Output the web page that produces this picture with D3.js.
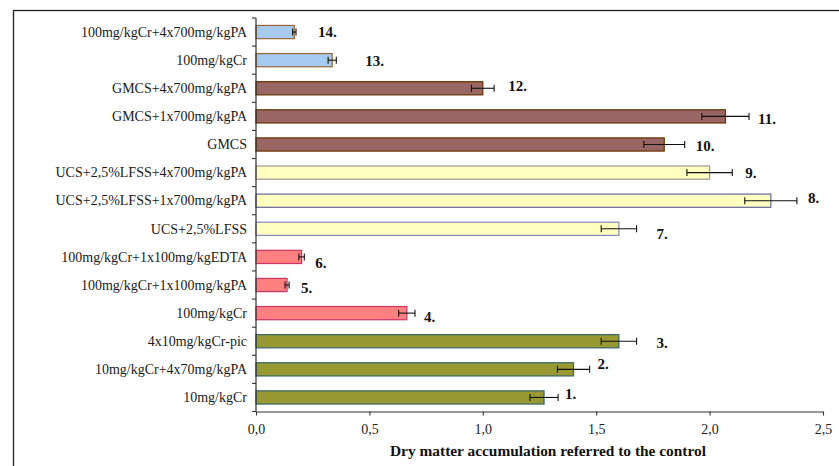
<!DOCTYPE html>
<html>
<head>
<meta charset="utf-8">
<script src="https://cdn.jsdelivr.net/npm/d3@7"></script>
<style>
  html, body { margin: 0; padding: 0; background: #fff; }
  svg { display: block; }
  text { font-family: "Liberation Serif", "Times New Roman", serif; }
</style>
</head>
<body>
<svg id="chart" width="839" height="466"></svg>
<script>
// Treatments, listed bottom (1.) to top (14.)
const categories = [
  "10mg/kgCr",
  "10mg/kgCr+4x70mg/kgPA",
  "4x10mg/kgCr-pic",
  "100mg/kgCr",
  "100mg/kgCr+1x100mg/kgPA",
  "100mg/kgCr+1x100mg/kgEDTA",
  "UCS+2,5%LFSS",
  "UCS+2,5%LFSS+1x700mg/kgPA",
  "UCS+2,5%LFSS+4x700mg/kgPA",
  "GMCS",
  "GMCS+1x700mg/kgPA",
  "GMCS+4x700mg/kgPA",
  "100mg/kgCr",
  "100mg/kgCr+4x700mg/kgPA"
];
const numberLabels = ["1.", "2.", "3.", "4.", "5.", "6.", "7.", "8.", "9.", "10.", "11.", "12.", "13.", "14."];
const values = [1.27, 1.40, 1.60, 0.665, 0.137, 0.201, 1.60, 2.27, 2.00, 1.80, 2.07, 1.00, 0.336, 0.169];
const errors = [0.062, 0.071, 0.078, 0.036, 0.009, 0.012, 0.078, 0.115, 0.10, 0.09, 0.104, 0.05, 0.018, 0.0075];
const groups = [0, 0, 0, 1, 1, 1, 2, 2, 2, 3, 3, 3, 4, 4];
const xTickValues = [0, 0.5, 1.0, 1.5, 2.0, 2.5];
const xTitle = "Dry matter accumulation referred to the control";

// Styling per group
const groupFill = ["#999933", "#ff8080", "#ffffc0", "#996666", "#a6caf0"];
const groupStroke = ["#336666", "#cc3366", "#8888bb", "#663300", "#996633"];
// Individual outline overrides for the yellow group
const strokeOverride = { 8: "#999999", 7: "#666699" };
// Hand-placed nudges for the numbered tags: [px right of error cap, px below band centre]
const tagNudge = [[7, -3], [8, -5], [20, 2], [9, 4], [12, 3], [11, 6], [20, 5],
                  [11, -3], [13, 0], [11, 2], [9, 3], [14, -2], [29, 1], [22, 0]];

const svg = d3.select("#chart");

// Outer frame
svg.append("rect")
  .attr("x", 13.5).attr("y", 10.5)
  .attr("width", 900).attr("height", 500)
  .attr("fill", "none").attr("stroke", "#222").attr("stroke-width", 1.3);

const x = d3.scaleLinear().domain([0, 2.5]).range([256, 823]);
const y = d3.scaleBand()
  .domain(d3.range(categories.length).reverse())
  .range([18, 411.5])
  .padding(0);
const step = y.step();
const barH = step * 0.47;
const yc = i => y(i) + step / 2;

const plot = svg.append("g");

// Bars
plot.selectAll("rect.bar")
  .data(values)
  .join("rect")
  .attr("class", "bar")
  .attr("x", x(0))
  .attr("y", (d, i) => yc(i) - barH / 2)
  .attr("width", d => x(d) - x(0))
  .attr("height", barH)
  .attr("fill", (d, i) => groupFill[groups[i]])
  .attr("stroke", (d, i) => strokeOverride[i] || groupStroke[groups[i]])
  .attr("stroke-width", 1.2);

// Error bars
const eb = plot.selectAll("g.err")
  .data(values)
  .join("g")
  .attr("class", "err")
  .attr("stroke", "#111")
  .attr("stroke-width", 1.1);
eb.append("line")
  .attr("x1", (d, i) => x(d - errors[i]))
  .attr("x2", (d, i) => x(d + errors[i]))
  .attr("y1", (d, i) => yc(i))
  .attr("y2", (d, i) => yc(i));
eb.append("line")
  .attr("x1", (d, i) => x(d - errors[i]))
  .attr("x2", (d, i) => x(d - errors[i]))
  .attr("y1", (d, i) => yc(i) - 3.5)
  .attr("y2", (d, i) => yc(i) + 3.5);
eb.append("line")
  .attr("x1", (d, i) => x(d + errors[i]))
  .attr("x2", (d, i) => x(d + errors[i]))
  .attr("y1", (d, i) => yc(i) - 3.5)
  .attr("y2", (d, i) => yc(i) + 3.5);

// Numbered tags
plot.selectAll("text.tag")
  .data(values)
  .join("text")
  .attr("class", "tag")
  .attr("x", (d, i) => x(d + errors[i]) + tagNudge[i][0])
  .attr("y", (d, i) => yc(i) + tagNudge[i][1] + 5)
  .attr("font-size", 15)
  .attr("font-weight", "bold")
  .attr("fill", "#111")
  .text((d, i) => numberLabels[i]);

// Category axis: line, boundary ticks, labels
const axisColor = "#333";
svg.append("line")
  .attr("x1", x(0)).attr("x2", x(0))
  .attr("y1", y.range()[0]).attr("y2", y.range()[1])
  .attr("stroke", axisColor).attr("stroke-width", 1.2);
svg.selectAll("line.ytick")
  .data(d3.range(categories.length + 1))
  .join("line")
  .attr("class", "ytick")
  .attr("x1", x(0) - 4).attr("x2", x(0))
  .attr("y1", k => y.range()[0] + k * step)
  .attr("y2", k => y.range()[0] + k * step)
  .attr("stroke", axisColor).attr("stroke-width", 1.1);
svg.selectAll("text.ylab")
  .data(categories)
  .join("text")
  .attr("class", "ylab")
  .attr("x", x(0) - 9)
  .attr("y", (d, i) => yc(i) + 4.8)
  .attr("text-anchor", "end")
  .attr("font-size", 14)
  .attr("fill", "#1a1a1a")
  .text(d => d);

// Value axis
const xAxis = d3.axisBottom(x)
  .tickValues(xTickValues)
  .tickSize(4)
  .tickSizeOuter(0)
  .tickPadding(9)
  .tickFormat(d => d3.format(".1f")(d).replace(".", ","));
const gx = svg.append("g")
  .attr("transform", `translate(0,${y.range()[1]})`)
  .call(xAxis);
gx.select(".domain").attr("stroke", axisColor).attr("stroke-width", 1.2);
gx.selectAll(".tick line").attr("stroke", axisColor).attr("stroke-width", 1.1);
gx.selectAll(".tick text")
  .attr("font-family", "Liberation Serif, Times New Roman, serif")
  .attr("font-size", 14)
  .attr("fill", "#222");

svg.append("text")
  .attr("x", 548)
  .attr("y", 455.5)
  .attr("text-anchor", "middle")
  .attr("font-size", 15.4)
  .attr("font-weight", "bold")
  .attr("fill", "#111")
  .text(xTitle);
</script>
</body>
</html>
